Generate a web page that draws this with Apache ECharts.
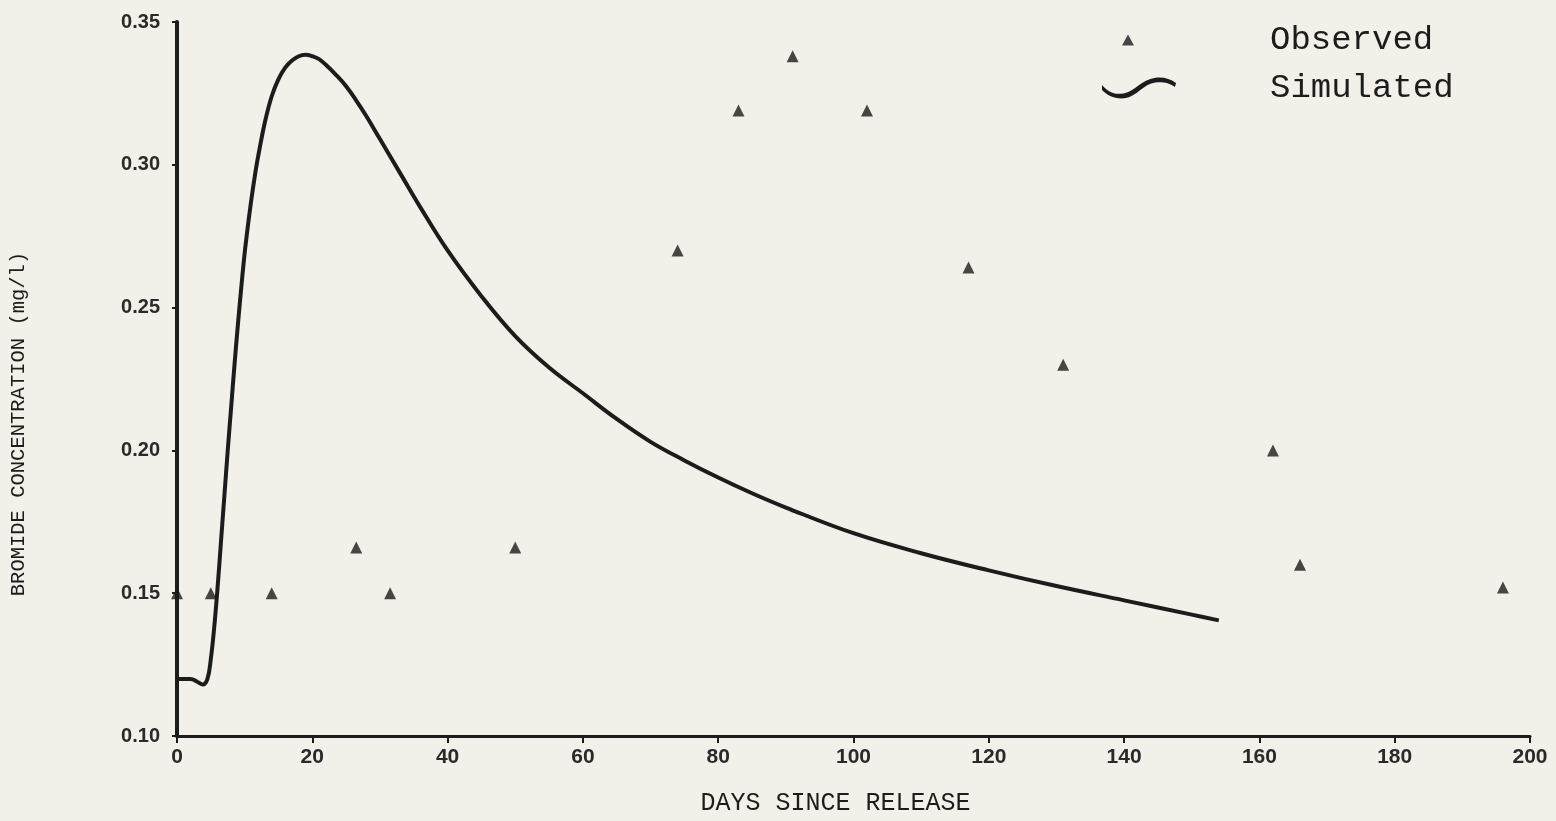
<!DOCTYPE html>
<html>
<head>
<meta charset="utf-8">
<title>Bromide concentration</title>
<script src="https://cdn.jsdelivr.net/npm/echarts@6/dist/echarts.min.js"></script>
<style>
  html, body { margin: 0; padding: 0; background: #f2f0e9; }
  #chart { width: 1556px; height: 821px; }
</style>
</head>
<body>
<div id="chart"></div>
<script>
// observed points, [day, mg/l]
const observedDays = [0, 5, 14, 26.5, 31.5, 50, 74, 83, 91, 102, 117, 131, 162, 166, 196]
const observedConc = [0.15, 0.15, 0.15, 0.166, 0.15, 0.166, 0.27, 0.319, 0.338, 0.319, 0.264, 0.23, 0.20, 0.16, 0.152]

// simulated curve
const simDays = [0, 1, 2, 3, 3.8, 4.5, 5, 5.5, 6, 6.5, 7, 7.5, 8, 8.5, 9, 9.5, 10, 10.5, 11, 11.5, 12, 13, 14, 15, 16, 17, 18, 19, 20, 21, 22, 23.5, 25, 26.5, 28, 30, 33, 36, 40, 45, 50, 55, 60, 65, 70, 75, 80, 85, 90, 100, 110, 120, 130, 140, 150, 154]
const simConc = [0.12, 0.12, 0.12, 0.119, 0.118, 0.12, 0.127, 0.138, 0.152, 0.168, 0.184, 0.2, 0.215, 0.23, 0.244, 0.257, 0.269, 0.279, 0.288, 0.296, 0.303, 0.315, 0.324, 0.33, 0.334, 0.3365, 0.338, 0.3385, 0.338, 0.337, 0.335, 0.3315, 0.3275, 0.3225, 0.317, 0.309, 0.297, 0.285, 0.27, 0.254, 0.24, 0.229, 0.22, 0.211, 0.203, 0.1965, 0.1905, 0.185, 0.18, 0.171, 0.164, 0.158, 0.1525, 0.1475, 0.1425, 0.1405]

const xTicks = { min: 0, max: 200, step: 20 }
const yTicks = { min: 0.10, max: 0.35, step: 0.05 }

const ink = '#1c1c1c'
const mono = '"Liberation Mono", "DejaVu Sans Mono", monospace'
const sans = '"Liberation Sans", Arial, sans-serif'

// squiggle legend icon (a thick band)
const squiggle = 'path://M0,9 C6,16 12,19 22,17 C32,15 38,4 52,2 C60,1 66,3 72,7 L71,11 C65,7 60,6 52,6.5 C40,8 34,20 22,22 C12,23 5,19 0,14 Z'

const chart = echarts.init(document.getElementById('chart'))
chart.setOption({
  backgroundColor: '#f2f0e9',
  animation: false,
  grid: { left: 176, right: 26, top: 22, bottom: 84 },
  legend: [
    {
      data: [{ name: 'Observed', icon: 'triangle' }],
      left: 1117,
      top: 18,
      itemWidth: 12,
      itemHeight: 11,
      selectedMode: false,
      textStyle: { fontFamily: mono, fontSize: 34, color: ink, padding: [0, 0, 6, 131] }
    },
    {
      data: [{ name: 'Simulated', icon: squiggle }],
      left: 1097,
      top: 66,
      itemWidth: 74,
      itemHeight: 24,
      selectedMode: false,
      textStyle: { fontFamily: mono, fontSize: 34, color: ink, padding: [0, 0, 34, 89] }
    }
  ],
  xAxis: {
    type: 'value',
    min: xTicks.min,
    max: xTicks.max,
    interval: xTicks.step,
    name: 'DAYS SINCE RELEASE',
    nameLocation: 'middle',
    nameGap: 55,
    nameTextStyle: { fontFamily: mono, fontSize: 25, color: ink, padding: [0, 36, 0, 0] },
    axisLine: { lineStyle: { color: ink, width: 3 } },
    axisTick: { length: 7, lineStyle: { color: ink, width: 2 } },
    axisLabel: { margin: 11, fontFamily: sans, fontWeight: 'bold', fontSize: 21, color: '#2a2a2a' },
    splitLine: { show: false }
  },
  yAxis: {
    type: 'value',
    min: yTicks.min,
    max: yTicks.max,
    interval: yTicks.step,
    name: 'BROMIDE CONCENTRATION (mg/l)',
    nameLocation: 'middle',
    nameGap: 148,
    nameTextStyle: { fontFamily: mono, fontSize: 20.5, color: ink, padding: [0, 90, 0, 0] },
    axisLine: { show: true, lineStyle: { color: ink, width: 4 } },
    axisTick: { show: true, length: 5, lineStyle: { color: ink, width: 2 } },
    axisLabel: {
      margin: 17,
      fontFamily: sans,
      fontWeight: 'bold',
      fontSize: 20,
      color: '#2a2a2a',
      formatter: v => v.toFixed(2)
    },
    splitLine: { show: false }
  },
  series: [
    {
      name: 'Observed',
      type: 'scatter',
      symbol: 'triangle',
      symbolSize: 12,
      itemStyle: { color: ink },
      data: observedDays.map((d, i) => [d, observedConc[i]]),
      z: 3
    },
    {
      name: 'Simulated',
      type: 'line',
      smooth: 0.4,
      showSymbol: false,
      itemStyle: { color: ink },
      lineStyle: { color: ink, width: 4 },
      data: simDays.map((d, i) => [d, simConc[i]]),
      z: 2
    }
  ]
})
</script>
</body>
</html>
